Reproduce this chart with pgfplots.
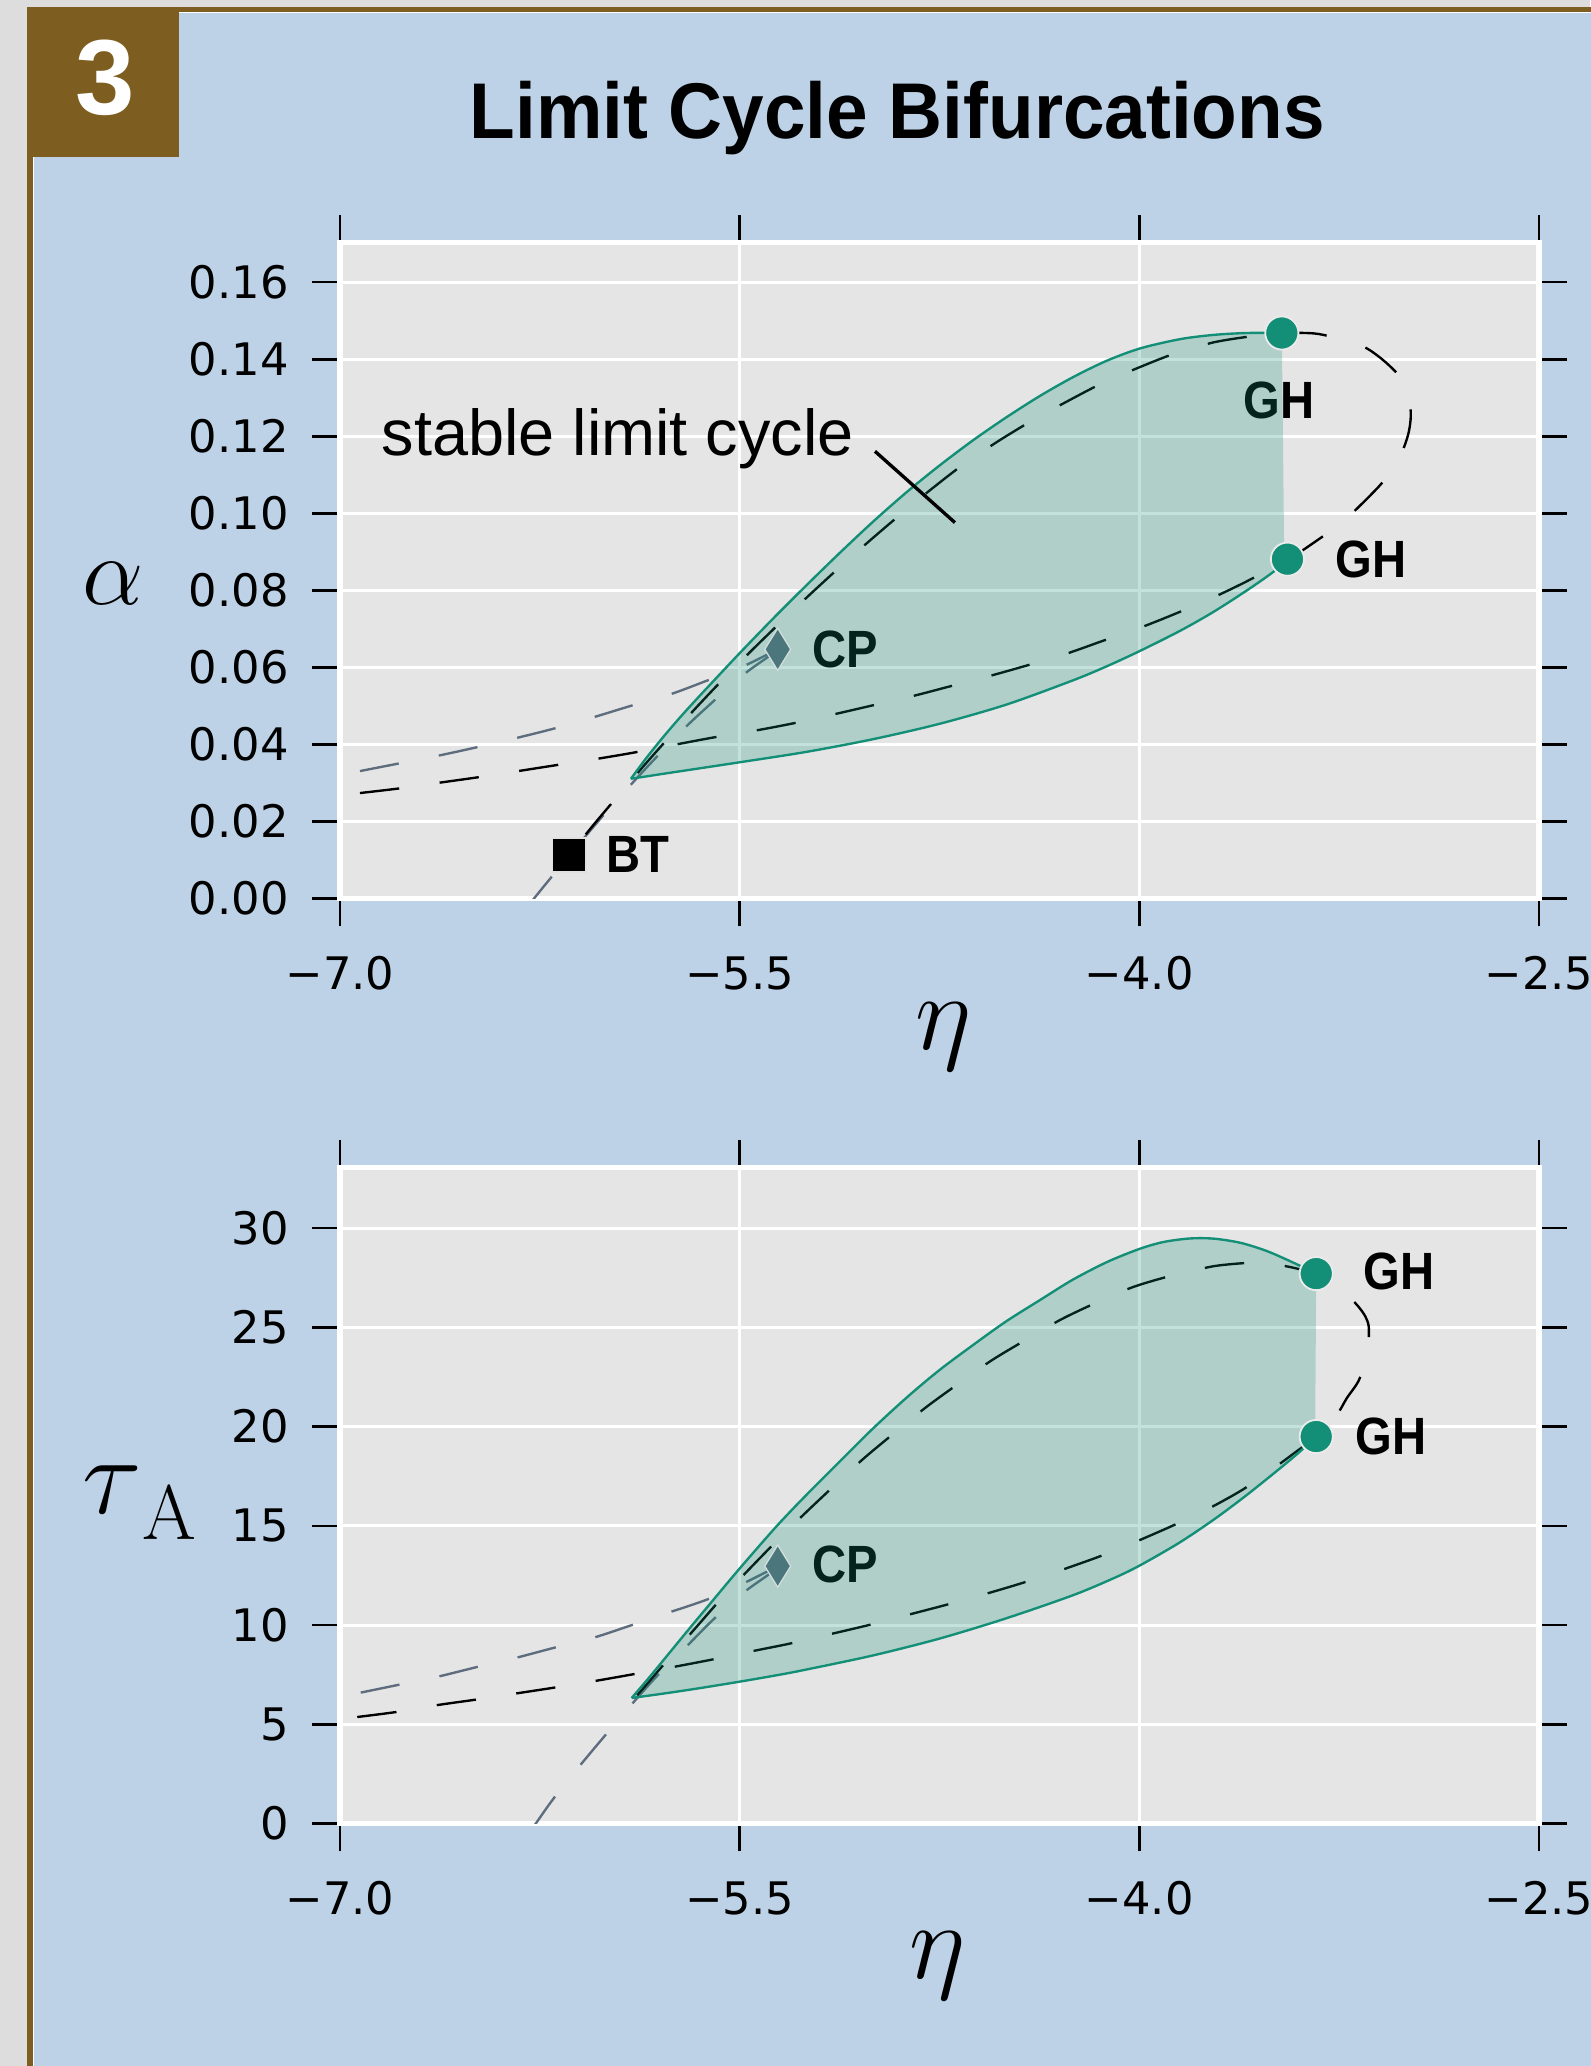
\documentclass[border=0pt]{standalone}
\usepackage{fix-cm}
\usepackage[no-math]{fontspec}
\usepackage{graphicx}
\usepackage{pgfplots}
\pgfplotsset{compat=1.18}
\setmainfont{DejaVu Sans}
\newfontfamily\dejavu{DejaVu Sans}
\newfontfamily\lib{Liberation Sans}
\definecolor{pagegray}{HTML}{DDDDDD}
\definecolor{brownc}{HTML}{7E5E20}
\definecolor{panelblue}{HTML}{BDD2E6}
\definecolor{axbg}{HTML}{E5E5E5}
\definecolor{tealc}{HTML}{148F77}
\definecolor{slate}{HTML}{5D6D7E}
\definecolor{cpcol}{HTML}{4B767C}
\newcommand{\lb}[1]{\scalebox{0.9}[1]{#1}}
\tikzset{lbl/.style={font=\lib\bfseries\fontsize{19.9}{22}\selectfont, inner sep=0pt, text=black}}
\pgfplotsset{
  myax/.style={
    scale only axis, width=455pt, height=249pt,
    xmin=-7, xmax=-2.5,
    axis background/.style={fill=axbg},
    axis line style={white, line width=2pt},
    grid=major, major grid style={white, line width=1.1pt},
    tick align=outside, major tick length=10.5pt,
    tick style={black, line width=1pt},
    xtick={-7,-5.5,-4,-2.5},
    xticklabels={−7.0,−5.5,−4.0,−2.5},
    tick label style={font=\dejavu\fontsize{17}{20}\selectfont, inner sep=0pt},
    xticklabel style={anchor=north, yshift=-11.3pt},
    yticklabel style={anchor=east, xshift=-8.75pt},
    anchor=south west,
  },
  hopf/.style={black, line width=0.9pt, smooth, tension=0.5, dash pattern=on 15pt off 15.5pt},
  fold/.style={slate, line width=0.9pt, smooth, tension=0.5, dash pattern=on 15pt off 15.5pt},
  lpc/.style={tealc, line width=0.9pt, smooth, tension=0.5},
  region/.style={draw=none, fill=tealc, fill opacity=0.25},
}
\pgfplotstableread{
x y
-5.908 0.0311
-5.849 0.0366
-5.786 0.0420
-5.724 0.0470
-5.661 0.0518
-5.599 0.0564
-5.4985 0.0638
-5.374 0.0727
-5.248 0.0814
-5.123 0.0898
-4.998 0.0979
-4.873 0.1055
-4.748 0.1125
-4.623 0.1190
-4.497 0.1250
-4.372 0.1305
-4.247 0.1354
-4.122 0.1396
-3.997 0.1428
-3.847 0.1452
-3.722 0.1463
-3.596 0.1468
-3.465 0.1468
}\upperA
\pgfplotstableread{
x y
-5.908 0.0311
-5.786 0.0324
-5.661 0.0337
-5.4985 0.0354
-5.248 0.0381
-4.998 0.0414
-4.748 0.0454
-4.497 0.0504
-4.247 0.0567
-4.122 0.0603
-3.997 0.0643
-3.847 0.0695
-3.722 0.0744
-3.596 0.0800
-3.497 0.0848
-3.444 0.0881
}\lowerA
\pgfplotstableread{
x y
-5.905 6.33
-5.84 7.35
-5.78 8.33
-5.69 9.80
-5.60 11.25
-5.50 12.85
-5.36 15.00
-5.25 16.55
-5.12 18.30
-5.00 19.90
-4.87 21.50
-4.75 22.85
-4.62 24.15
-4.50 25.30
-4.37 26.40
-4.25 27.40
-4.12 28.30
-4.00 28.95
-3.91 29.30
-3.81 29.48
-3.72 29.47
-3.62 29.26
-3.52 28.84
-3.42 28.25
-3.336 27.71
}\upperB
\pgfplotstableread{
x y
-5.905 6.33
-5.786 6.55
-5.661 6.80
-5.50 7.15
-5.35 7.50
-5.25 7.76
-5.00 8.47
-4.75 9.32
-4.50 10.34
-4.25 11.50
-4.10 12.34
-4.00 12.99
-3.85 14.15
-3.72 15.32
-3.60 16.52
-3.47 17.92
-3.40 18.71
-3.336 19.50
}\lowerB
\begin{document}
\begin{tikzpicture}[x=0.5pt, y=-0.5pt]
\useasboundingbox (0,0) rectangle (1207,1568);
\fill[pagegray] (0,0) rectangle (1207,1568);
\fill[brownc] (20.6,5.1) rectangle (1230,1590);
\fill[white] (24.7,8.9) rectangle (1230,1590);
\fill[panelblue] (26.1,9.6) rectangle (1230,1590);
\fill[brownc] (20.6,5.1) rectangle (136,119);
\node[text=white, font=\lib\bfseries\fontsize{40.5}{42}\selectfont, anchor=base, inner sep=0pt] at (79.9,86.8) {3};
\node[font=\lib\bfseries\fontsize{30}{32}\selectfont, anchor=base, inner sep=0pt] at (681,105) {\scalebox{0.945}[1]{Limit Cycle Bifurcations}};

% ---------------- top panel ----------------
\begin{axis}[myax, at={(129pt,-341pt)},
  ymin=0, ymax=0.1703,
  ytick={0,0.02,0.04,0.06,0.08,0.10,0.12,0.14,0.16},
  yticklabels={0.00,0.02,0.04,0.06,0.08,0.10,0.12,0.14,0.16},
  ylabel={$\alpha$},
  ylabel style={rotate=-90, at={(axis description cs:-0.1888,0.4478)}, anchor=base, inner sep=0pt, font=\fontsize{37}{40}\selectfont},
  xlabel={$\eta$},
  xlabel style={at={(axis description cs:0.503,-0.2104)}, anchor=center, inner sep=0pt, font=\fontsize{41}{44}\selectfont},
]
\addplot[fold] coordinates {(-6.925,0.0331) (-6.777,0.0351) (-6.631,0.0371) (-6.485,0.0393) (-6.337,0.0417) (-6.193,0.0442) (-6.047,0.0471) (-5.905,0.0501) (-5.761,0.0530) (-5.618,0.0567) (-5.480,0.0605) (-5.357,0.0647)};
\addplot[fold] coordinates {(-5.357,0.0647) (-5.386,0.0631) (-5.486,0.0581) (-5.605,0.0508) (-5.709,0.0441) (-5.818,0.0363) (-5.905,0.0298) (-6.018,0.0211) (-6.111,0.0135) (-6.212,0.0051) (-6.272,0.0) (-6.285,-0.0012)};
\addplot[hopf] coordinates {(-6.925,0.0274) (-6.777,0.0286) (-6.625,0.0301) (-6.481,0.0315) (-6.331,0.0331) (-6.183,0.0347) (-6.033,0.0363) (-5.889,0.0380) (-5.739,0.0400) (-5.592,0.0419) (-5.442,0.0436) (-5.298,0.0455) (-5.148,0.0478) (-5.004,0.0501) (-4.854,0.0525) (-4.710,0.0551) (-4.566,0.0577) (-4.422,0.0605) (-4.272,0.0636) (-4.141,0.0668) (-3.997,0.0703) (-3.859,0.0741) (-3.715,0.0784) (-3.584,0.0828) (-3.444,0.0881) (-3.415,0.0891) (-3.328,0.0932) (-3.271,0.0960) (-3.206,0.0997) (-3.103,0.1068) (-3.052,0.1112) (-3.015,0.1157) (-2.990,0.1207) (-2.981,0.1255) (-2.990,0.1311) (-3.021,0.1354) (-3.077,0.1393) (-3.134,0.1423) (-3.196,0.1445) (-3.277,0.1458) (-3.346,0.1467) (-3.465,0.1468) (-3.574,0.1460) (-3.719,0.1444) (-3.866,0.1415) (-4.003,0.1378) (-4.141,0.1337) (-4.272,0.1290) (-4.404,0.1240) (-4.530,0.1187) (-4.660,0.1127) (-4.780,0.1063) (-4.898,0.0996) (-5.010,0.0930) (-5.123,0.0861) (-5.235,0.0790) (-5.342,0.0720) (-5.449,0.0648) (-5.530,0.0592) (-5.611,0.0534) (-5.680,0.0483) (-5.750,0.0430) (-5.830,0.0368) (-5.908,0.0306) (-5.955,0.0268) (-6.050,0.0190) (-6.139,0.01135)};
\addplot[lpc] table {\upperA};
\addplot[lpc] table {\lowerA};
\addplot[only marks, mark=square*, mark size=6.4pt, mark options={fill=black, draw=white!88!black, line width=0.6pt}] coordinates {(-6.139,0.01135)};
\addplot[only marks, mark=diamond*, mark size=8pt, mark options={fill=cpcol, draw=white!75!cpcol, line width=0.5pt, xscale=0.82}] coordinates {(-5.357,0.0647)};
\addplot[only marks, mark=*, mark size=6.3pt, mark options={fill=tealc, draw=white!92!black, line width=0.7pt}] coordinates {(-3.465,0.1468) (-3.444,0.0881)};
\node[lbl, anchor=west, xshift=13.8pt] at (axis cs:-6.139,0.01135) {\lb{BT}};
\node[lbl, anchor=west, xshift=13pt] at (axis cs:-5.357,0.0647) {\lb{CP}};
\node[lbl, anchor=center, xshift=-1.1pt, yshift=-25.7pt] at (axis cs:-3.465,0.1468) {\lb{GH}};
\node[lbl, anchor=west, xshift=18pt] at (axis cs:-3.444,0.0881) {\lb{GH}};
\addplot[region] coordinates {(-5.908,0.0311) (-5.849,0.0366) (-5.786,0.0420) (-5.724,0.0470) (-5.661,0.0518) (-5.599,0.0564) (-5.4985,0.0638) (-5.374,0.0727) (-5.248,0.0814) (-5.123,0.0898) (-4.998,0.0979) (-4.873,0.1055) (-4.748,0.1125) (-4.623,0.1190) (-4.497,0.1250) (-4.372,0.1305) (-4.247,0.1354) (-4.122,0.1396) (-3.997,0.1428) (-3.847,0.1452) (-3.722,0.1463) (-3.596,0.1468) (-3.465,0.1468) (-3.456,0.0880) (-3.497,0.0848) (-3.596,0.0800) (-3.722,0.0744) (-3.847,0.0695) (-3.997,0.0643) (-4.122,0.0603) (-4.247,0.0567) (-4.497,0.0504) (-4.748,0.0454) (-4.998,0.0414) (-5.248,0.0381) (-5.4985,0.0354) (-5.661,0.0337) (-5.786,0.0324) (-5.908,0.0311)};
\draw[black, line width=1.27pt] (axis cs:-4.992,0.1161) -- (axis cs:-4.692,0.0976);
\node[anchor=base west, inner sep=0pt, font=\lib\fontsize{24.6}{26}\selectfont] at (axis cs:-6.845,0.1151) {stable limit cycle};
\end{axis}

% ---------------- bottom panel ----------------
\begin{axis}[myax, at={(129pt,-692pt)},
  ymin=0, ymax=33.06,
  ytick={0,5,10,15,20,25,30},
  yticklabels={0,5,10,15,20,25,30},
  ylabel={$\tau\lower9.8pt\hbox{$\scriptstyle\mathrm{A}$}$},
  ylabel style={rotate=-90, at={(axis description cs:-0.1198,0.473)}, anchor=base east, inner sep=0pt, font=\fontsize{42}{44}\selectfont},
  xlabel={$\eta$},
  xlabel style={at={(axis description cs:0.498,-0.217)}, anchor=center, inner sep=0pt, font=\fontsize{41}{44}\selectfont},
]
\addplot[fold] coordinates {(-6.922,6.60) (-6.777,7.00) (-6.627,7.42) (-6.485,7.89) (-6.337,8.36) (-6.193,8.87) (-6.047,9.37) (-5.905,10.00) (-5.764,10.64) (-5.618,11.31) (-5.486,12.10) (-5.357,12.97)};
\addplot[fold] coordinates {(-5.357,12.97) (-5.386,12.60) (-5.486,11.63) (-5.599,10.28) (-5.701,8.90) (-5.811,7.42) (-5.905,6.01) (-6.008,4.39) (-6.102,2.88) (-6.199,1.25) (-6.265,0.0) (-6.28,-0.3)};
\addplot[hopf] coordinates {(-6.935,5.37) (-6.790,5.62) (-6.640,5.96) (-6.493,6.24) (-6.342,6.55) (-6.196,6.85) (-6.045,7.18) (-5.901,7.52) (-5.749,7.89) (-5.605,8.26) (-5.455,8.68) (-5.311,9.07) (-5.161,9.54) (-5.010,10.02) (-4.873,10.50) (-4.725,11.02) (-4.585,11.54) (-4.437,12.13) (-4.300,12.74) (-4.153,13.44) (-4.022,14.15) (-3.878,14.99) (-3.744,15.84) (-3.609,16.85) (-3.490,17.96) (-3.410,18.75) (-3.336,19.50) (-3.261,20.55) (-3.221,21.44) (-3.178,22.28) (-3.152,23.29) (-3.140,24.18) (-3.139,25.05) (-3.152,25.56) (-3.181,26.10) (-3.234,26.82) (-3.290,27.41) (-3.336,27.71) (-3.437,28.05) (-3.510,28.20) (-3.582,28.25) (-3.660,28.18) (-3.734,28.05) (-3.878,27.61) (-4.022,27.04) (-4.159,26.26) (-4.295,25.39) (-4.425,24.38) (-4.554,23.34) (-4.675,22.20) (-4.800,20.98) (-4.913,19.75) (-5.033,18.41) (-5.138,17.11) (-5.251,15.68) (-5.355,14.32) (-5.461,12.86) (-5.563,11.42) (-5.667,9.83) (-5.761,8.39) (-5.840,7.15) (-5.905,6.15)};
\addplot[lpc] table {\upperB};
\addplot[lpc] table {\lowerB};
\addplot[only marks, mark=diamond*, mark size=8pt, mark options={fill=cpcol, draw=white!75!cpcol, line width=0.5pt, xscale=0.82}] coordinates {(-5.357,12.97)};
\addplot[only marks, mark=*, mark size=6.3pt, mark options={fill=tealc, draw=white!92!black, line width=0.7pt}] coordinates {(-3.336,27.71) (-3.336,19.50)};
\node[lbl, anchor=west, xshift=12.9pt, yshift=0.76pt] at (axis cs:-5.357,12.97) {\lb{CP}};
\node[lbl, anchor=west, xshift=17.8pt, yshift=0.76pt] at (axis cs:-3.336,27.71) {\lb{GH}};
\node[lbl, anchor=west, xshift=14.7pt] at (axis cs:-3.336,19.50) {\lb{GH}};
\addplot[region] coordinates {(-5.905,6.33) (-5.84,7.35) (-5.78,8.33) (-5.69,9.80) (-5.60,11.25) (-5.50,12.85) (-5.36,15.00) (-5.25,16.55) (-5.12,18.30) (-5.00,19.90) (-4.87,21.50) (-4.75,22.85) (-4.62,24.15) (-4.50,25.30) (-4.37,26.40) (-4.25,27.40) (-4.12,28.30) (-4.00,28.95) (-3.91,29.30) (-3.81,29.48) (-3.72,29.47) (-3.62,29.26) (-3.52,28.84) (-3.42,28.25) (-3.336,27.71) (-3.340,19.55) (-3.40,18.71) (-3.47,17.92) (-3.60,16.52) (-3.72,15.32) (-3.85,14.15) (-4.00,12.99) (-4.10,12.34) (-4.25,11.50) (-4.50,10.34) (-4.75,9.32) (-5.00,8.47) (-5.25,7.76) (-5.35,7.50) (-5.50,7.15) (-5.661,6.80) (-5.786,6.55) (-5.905,6.33)};
\end{axis}
\end{tikzpicture}
\end{document}
